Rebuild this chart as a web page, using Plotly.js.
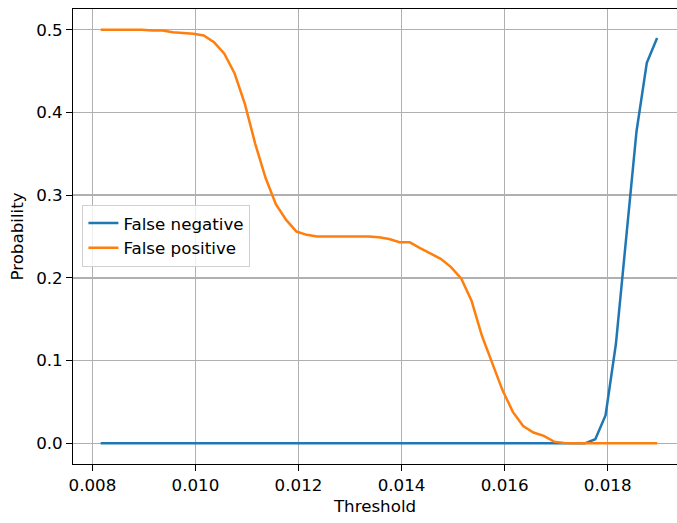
<!DOCTYPE html>
<html>
<head>
<meta charset="utf-8">
<script src="https://cdn.plot.ly/plotly-3.0.1.min.js"></script>
<style>html,body{margin:0;padding:0;background:#fff;overflow:hidden;}#chart{width:677px;height:523px;}</style>
</head>
<body>
<div id="chart"></div>
<script>
const thresholds = [0.00816,0.00836,0.00856,0.00876,0.00896,0.00916,0.00936,0.00956,0.00976,0.00996,
  0.01016,0.01036,0.01056,0.01076,0.01096,0.01116,0.01136,0.01156,0.01176,0.01196,
  0.01216,0.01236,0.01256,0.01276,0.01296,0.01316,0.01336,0.01356,0.01376,0.01396,
  0.01416,0.01436,0.01456,0.01476,0.01496,0.01516,0.01536,0.01556,0.01576,0.01596,
  0.01616,0.01636,0.01656,0.01676,0.01696,0.01716,0.01736,0.01756,0.01776,0.01796,
  0.01816,0.01836,0.01856,0.01876,0.01896];
const falseNegative = [0,0,0,0,0,0,0,0,0,0,
  0,0,0,0,0,0,0,0,0,0,
  0,0,0,0,0,0,0,0,0,0,
  0,0,0,0,0,0,0,0,0,0,
  0,0,0,0,0,0,0,0,0.005,0.034,
  0.120,0.248,0.377,0.460,0.490];
const falsePositive = [0.5,0.5,0.5,0.5,0.5,0.499,0.499,0.497,0.496,0.495,
  0.493,0.485,0.471,0.447,0.410,0.362,0.321,0.289,0.270,0.256,
  0.252,0.250,0.250,0.250,0.250,0.250,0.250,0.249,0.247,0.243,
  0.243,0.236,0.229,0.223,0.213,0.199,0.172,0.130,0.097,0.064,
  0.038,0.021,0.013,0.009,0.002,0.0005,0,0,0,0,
  0,0,0,0,0];
const seriesNames = ["False negative","False positive"];
const xTicks = [0.008,0.010,0.012,0.014,0.016,0.018];
const yTicks = [0.0,0.1,0.2,0.3,0.4,0.5];

const font = {family: "DejaVu Sans, sans-serif", size: 16.7, color: "#000"};
const traces = [
  {x: thresholds, y: falseNegative, name: seriesNames[0], mode: "lines", line: {color: "#1f77b4", width: 2.5}},
  {x: thresholds, y: falsePositive, name: seriesNames[1], mode: "lines", line: {color: "#ff7f0e", width: 2.5}}
];
const axisCommon = {
  showline: true, linecolor: "#000", linewidth: 1.1,
  ticks: "outside", ticklen: 5.8, tickwidth: 1.1, tickcolor: "#000",
  showgrid: true, gridcolor: "#b0b0b0", gridwidth: 1.3, zeroline: false,
  tickfont: font
};
const layout = {
  width: 677, height: 523,
  margin: {l: 73.3, r: 0, t: 8.6, b: 59},
  paper_bgcolor: "#fff", plot_bgcolor: "#fff",
  font: font,
  showlegend: true,
  legend: {x: 0.0156, y: 0.570, xanchor: "left", yanchor: "top",
    bgcolor: "rgba(255,255,255,0.8)", bordercolor: "#d0d0d0", borderwidth: 1,
    font: font, itemwidth: 30, traceorder: "normal"},
  xaxis: Object.assign({}, axisCommon, {
    mirror: true,
    range: [0.007623, 0.019346], tickvals: xTicks, ticktext: xTicks.map(v => v.toFixed(3)),
    title: {text: "Threshold", font: font, standoff: 6}
  }),
  yaxis: Object.assign({}, axisCommon, {
    mirror: false,
    range: [-0.025, 0.525], tickvals: yTicks, ticktext: yTicks.map(v => v.toFixed(1)),
    title: {text: "Probability", font: font, standoff: 8}
  })
};
Plotly.newPlot("chart", traces, layout, {displayModeBar: false, staticPlot: true});
</script>
</body>
</html>
